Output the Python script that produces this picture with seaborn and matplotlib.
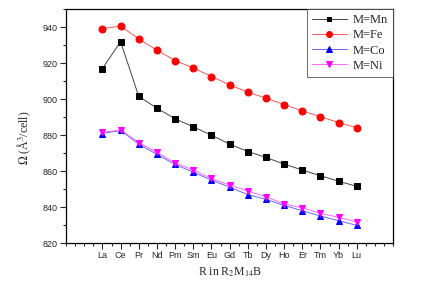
import numpy as np
import pandas as pd
import seaborn as sns
import matplotlib.pyplot as plt
from matplotlib.ticker import MultipleLocator

sns.set_style("ticks")
plt.rcParams['font.family'] = ['Liberation Sans', 'DejaVu Sans']
plt.rcParams['mathtext.fontset'] = 'stix'

# rare earth elements R in R2M14B
elements = ['La', 'Ce', 'Pr', 'Nd', 'Pm', 'Sm', 'Eu', 'Gd',
            'Tb', 'Dy', 'Ho', 'Er', 'Tm', 'Yb', 'Lu']

# cell volume (A^3/cell)
mn = [917.0, 932.0, 901.5, 895.0, 889.1, 884.6, 880.0, 875.0,
      870.9, 867.6, 863.9, 860.6, 857.4, 854.4, 851.5]
fe = [939.3, 940.6, 933.5, 927.2, 921.5, 917.4, 912.6, 908.0,
      903.9, 900.6, 897.0, 893.5, 890.2, 887.0, 884.1]
co = [880.9, 882.6, 875.0, 869.3, 863.7, 859.4, 855.0, 851.1,
      846.9, 844.3, 840.9, 838.0, 835.0, 832.4, 829.8]
ni = [881.6, 882.8, 875.9, 870.4, 864.6, 860.6, 855.9, 852.2,
      848.9, 845.7, 841.7, 839.6, 836.5, 834.3, 831.7]

series = ['M=Mn', 'M=Fe', 'M=Co', 'M=Ni']
pos = list(range(2, 2 + len(elements)))

#long form table for seaborn
df = pd.DataFrame({
    'pos': pos * 4,
    'vol': mn + fe + co + ni,
    'M': [s for s in series for _ in elements],
})

palette = {'M=Mn': 'black', 'M=Fe': 'red', 'M=Co': 'blue', 'M=Ni': 'magenta'}
linecols = {'M=Mn': '#444444', 'M=Fe': '#ff5555', 'M=Co': '#6666ff', 'M=Ni': '#ff66ff'}
markers = {'M=Mn': 's', 'M=Fe': 'o', 'M=Co': '^', 'M=Ni': 'v'}
msize = {'M=Mn': 4.2, 'M=Fe': 5.0, 'M=Co': 4.6, 'M=Ni': 4.6}

fig = plt.figure(figsize=(4.32, 2.90), dpi=100)
ax = fig.add_axes([0.153, 0.162, 0.757, 0.806])

for s in series:
    sub = df[df['M'] == s]
    sns.lineplot(data=sub, x='pos', y='vol', ax=ax, color=linecols[s],
                 marker=markers[s], markersize=msize[s], markerfacecolor=palette[s],
                 markeredgecolor=palette[s], linewidth=0.7, label=s)

ax.set_xlim(0, 18)
ax.set_ylim(820, 950)
ax.set_xticks(pos)
ax.set_xticklabels(elements)
ax.xaxis.set_minor_locator(MultipleLocator(0.5))
ax.yaxis.set_major_locator(MultipleLocator(20))
ax.yaxis.set_minor_locator(MultipleLocator(10))
ax.tick_params(axis='both', which='major', direction='out', length=4, width=0.8,
               labelsize=6.5, pad=2)
ax.tick_params(axis='both', which='minor', direction='out', length=2.5, width=0.8)
for sp in ax.spines.values():
    sp.set_linewidth(0.9)
    sp.set_color('black')

ax.set_xlabel('R in R$_2$M$_{14}$B', family='Liberation Serif', fontsize=8.5, labelpad=4)
ax.set_ylabel('$\\Omega$ (Å$^3$/cell)', family='Liberation Serif', fontsize=8.5)
ax.yaxis.set_label_coords(-0.1, 0.45)

leg = ax.legend(loc='upper right', frameon=True, fancybox=False,
                borderaxespad=0, handlelength=2.8, borderpad=0.4, labelspacing=0.25,
                handletextpad=0.5, markerscale=0.85,
                prop={'family': 'Liberation Serif', 'size': 9})
leg.get_frame().set_edgecolor('#444444')
leg.get_frame().set_linewidth(0.7)
for h, s in zip(leg.get_lines(), series):
    h.set_markerfacecolor(palette[s])
    h.set_markeredgecolor(palette[s])

fig.savefig('out.png', dpi=100)
